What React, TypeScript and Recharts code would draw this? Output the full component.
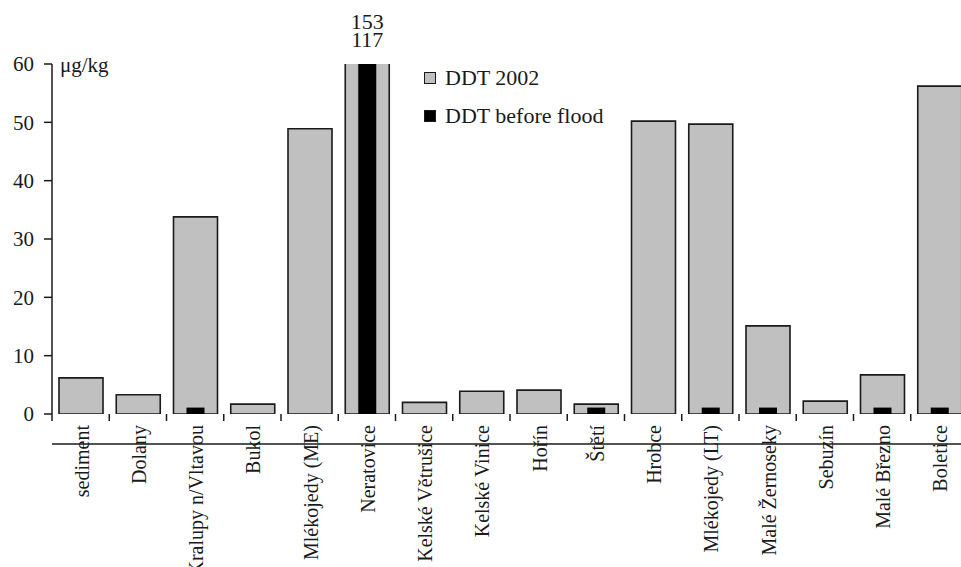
import { BarChart, Bar, XAxis, YAxis, Legend, LabelList, Label } from "recharts";

const sites = [
  "sediment",
  "Dolany",
  "Kralupy n/Vltavou",
  "Bukol",
  "Mlékojedy (ME)",
  "Neratovice",
  "Kelské Větrušice",
  "Kelské Vinice",
  "Hořín",
  "Štětí",
  "Hrobce",
  "Mlékojedy (LT)",
  "Malé Žernoseky",
  "Sebuzín",
  "Malé Březno",
  "Boletice",
];
const ddt2002 = [6.2, 3.3, 33.8, 1.7, 48.9, 153, 2.0, 3.9, 4.1, 1.7, 50.2, 49.7, 15.1, 2.2, 6.7, 56.2];
const ddtBeforeFlood = [null, null, 1.1, null, null, 117, null, null, null, 1.1, null, 1.1, 1.1, null, 1.1, 1.1];
const yTicks = [0, 10, 20, 30, 40, 50, 60];
const Y_MAX = 60;

const FONT = '"Liberation Serif", "Times New Roman", serif';
const INK = "#1a1a1a";
const GREY = "#c0c0c0";

// layout
const W = 975;
const H = 567;
const MARGIN = { top: 64, right: 7, bottom: 0, left: 0 };
const Y_AXIS_W = 52;
const X_AXIS_H = 153;
const AXIS_Y = H - MARGIN.bottom - X_AXIS_H;
const BAND = (W - MARGIN.right - MARGIN.left - Y_AXIS_W) / sites.length;

const data = sites.map((site, i) => ({
  site,
  ddt2002: ddt2002[i],
  before: ddtBeforeFlood[i],
}));

// tick marks sit between categories, labels run vertically under each bar
function SiteTick({ x, payload }: any) {
  const tx = x + 8;
  const ty = AXIS_Y + 11;
  return (
    <g>
      <line x1={x - BAND / 2} x2={x - BAND / 2} y1={AXIS_Y} y2={AXIS_Y + 7} stroke={INK} strokeWidth={1.5} />
      <text
        x={tx}
        y={ty}
        transform={`rotate(-90 ${tx} ${ty})`}
        textAnchor="end"
        fontFamily={FONT}
        fontSize={20}
        fill={INK}
      >
        {payload.value}
      </text>
    </g>
  );
}

// values beyond the axis get printed above the clipped bar
function overflowLabel(dy: number) {
  return (props: any) => {
    const { x, width, value } = props;
    if (value == null || value <= Y_MAX) return null;
    return (
      <text
        x={x + width / 2}
        y={MARGIN.top - dy}
        textAnchor="middle"
        fontFamily={FONT}
        fontSize={22}
        fill={INK}
      >
        {value}
      </text>
    );
  };
}

function LegendBox() {
  const items = [
    { label: "DDT 2002", fill: GREY },
    { label: "DDT before flood", fill: "#000" },
  ];
  return (
    <div style={{ fontFamily: FONT, fontSize: 22, color: INK }}>
      {items.map((it) => (
        <div key={it.label} style={{ display: "flex", alignItems: "center", height: 38 }}>
          <span
            style={{
              display: "inline-block",
              width: 10,
              height: 10,
              background: it.fill,
              border: `1px solid ${INK}`,
              marginRight: 9,
            }}
          />
          {it.label}
        </div>
      ))}
    </div>
  );
}

export default function App() {
  return (
    <div style={{ position: "absolute", left: 0, top: 0, width: 961, height: H, overflow: "hidden", background: "#fff" }}>
      <BarChart width={W} height={H} data={data} margin={MARGIN}>
        <XAxis
          xAxisId="site"
          dataKey="site"
          interval={0}
          height={X_AXIS_H}
          tick={<SiteTick />}
          tickLine={false}
          tickSize={0}
          tickMargin={0}
          axisLine={{ stroke: INK, strokeWidth: 1.5 }}
        />
        <XAxis xAxisId="inner" dataKey="site" hide />
        <YAxis
          width={Y_AXIS_W}
          domain={[0, Y_MAX]}
          ticks={yTicks}
          allowDataOverflow
          tickSize={8}
          tickMargin={10}
          tick={{ fontFamily: FONT, fontSize: 21, fill: INK }}
          tickLine={{ stroke: INK, strokeWidth: 1.5 }}
          axisLine={{ stroke: INK, strokeWidth: 1.5 }}
        >
          <Label
            content={(props: any) => {
              const vb = props.viewBox;
              return (
                <text x={vb.x + vb.width + 8} y={vb.y + 8} fontFamily={FONT} fontSize={21} fill={INK}>
                  μg/kg
                </text>
              );
            }}
          />
        </YAxis>
        <Legend
          layout="horizontal"
          verticalAlign="middle"
          align="center"
          content={<LegendBox />}
          wrapperStyle={{ position: "absolute", left: 424, top: 59, width: 220 }}
        />
        <Bar
          xAxisId="site"
          dataKey="ddt2002"
          name="DDT 2002"
          fill={GREY}
          stroke={INK}
          strokeWidth={1.6}
          barSize={44}
          isAnimationActive={false}
        >
          <LabelList dataKey="ddt2002" content={overflowLabel(35)} />
        </Bar>
        <Bar
          xAxisId="inner"
          dataKey="before"
          name="DDT before flood"
          fill="#000"
          barSize={18}
          isAnimationActive={false}
        >
          <LabelList dataKey="before" content={overflowLabel(17)} />
        </Bar>
      </BarChart>
    </div>
  );
}
